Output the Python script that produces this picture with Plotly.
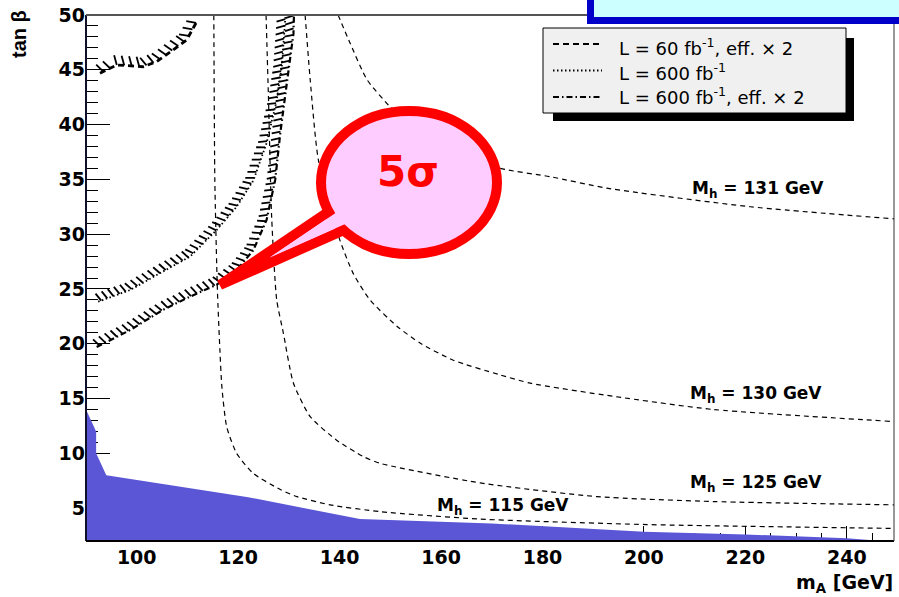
import numpy as np
import plotly.graph_objects as go

# ---------------- data ----------------
X_RANGE = [90.0, 249.3]
Y_RANGE = [2.0, 50.0]

# excluded region (filled, bottom)
excl_mA   = [90, 92, 92, 94, 122, 144, 170, 200, 220, 240, 247, 249.3]
excl_tanb = [14, 12, 10, 8, 6, 4, 3.6, 2.85, 2.6, 2.25, 2.0, 2.0]

# M_h iso-lines (thin dashed)
mh115_mA   = [115.2, 115.4, 115.9, 116.4, 116.8, 117.75, 119.7, 122.9, 128.3, 131.6, 138.1, 148.0, 167.7, 200.5, 249.3]
mh115_tanb = [50.0, 35.0, 25.0, 19.4, 16.0, 12.4, 10.0, 8.2, 6.7, 6.05, 5.3, 4.68, 4.0, 3.5, 3.15]

mh125_mA   = [125.5, 126.0, 126.6, 127.6, 128.9, 130.9, 134.2, 139.4, 144.7, 147.9, 167.7, 190.7, 213.7, 249.3]
mh125_tanb = [50.0, 42.0, 31.6, 24.0, 21.0, 16.4, 13.35, 11.2, 9.7, 9.1, 7.3, 6.05, 5.6, 5.3]

mh130_mA   = [133.2, 134.2, 135.8, 139.8, 142.7, 146.0, 151.3, 155.9, 162.4, 171.7, 177.6, 194.0, 213.7, 249.3]
mh130_tanb = [50.0, 44.1, 36.8, 29.8, 26.4, 24.0, 21.6, 20.05, 18.5, 17.15, 16.4, 15.2, 14.0, 12.9]

mh131_mA   = [139.7, 142.1, 145.4, 150.0, 153.9, 161.8, 171.7, 181.5, 192.7, 221.0, 249.3]
mh131_tanb = [50.0, 47.4, 44.1, 41.6, 40.0, 37.7, 36.0, 35.25, 34.2, 32.5, 31.4]

mh_label_text = ["M<sub>h</sub> = 115 GeV", "M<sub>h</sub> = 125 GeV",
                 "M<sub>h</sub> = 130 GeV", "M<sub>h</sub> = 131 GeV"]

# 5 sigma discovery contours
c60x2_mA    = [92.76, 96.05, 101.24, 103.94, 107.15, 109.85, 111.83]
c60x2_tanb  = [44.68, 45.44, 45.28, 45.74, 46.81, 47.72, 49.39]

c600_mA     = [92.4, 98.7, 105.2, 110.5, 115.8, 119.7, 123.0, 125.6, 127.6, 128.6, 129.25, 129.35]
c600_tanb   = [23.84, 24.9, 26.6, 27.95, 30.4, 32.5, 34.9, 38.3, 42.2, 45.3, 49.4, 50.0]

c600x2_mA   = [92.1, 98.7, 105.2, 110.5, 115.8, 119.7, 123.0, 125.6, 127.3, 128.3, 129.6, 130.9, 131.0]
c600x2_tanb = [19.7, 21.25, 23.1, 24.3, 25.4, 26.7, 28.55, 31.3, 34.95, 39.2, 43.8, 48.3, 50.0]

legend_text = ["L\u00a0=\u00a060 fb<sup>-1</sup>, eff.\u00a0\u00d7\u00a02",
               "L\u00a0=\u00a0600 fb<sup>-1</sup>",
               "L\u00a0=\u00a0600 fb<sup>-1</sup>, eff.\u00a0\u00d7\u00a02"]

# ---------------- geometry helpers ----------------
W, H = 899, 597
PL, PR, PT, PB = 86, 894, 15, 541


def d2p(x, y):
    px = PL + (x - X_RANGE[0]) / (X_RANGE[1] - X_RANGE[0]) * (PR - PL)
    py = PB - (y - Y_RANGE[0]) / (Y_RANGE[1] - Y_RANGE[0]) * (PB - PT)
    return px, py


def p2d(px, py):
    x = X_RANGE[0] + (px - PL) / (PR - PL) * (X_RANGE[1] - X_RANGE[0])
    y = Y_RANGE[0] + (PB - py) / (PB - PT) * (Y_RANGE[1] - Y_RANGE[0])
    return x, y


def xp(px):
    return (px - PL) / (PR - PL)


def yp(py):
    return (PB - py) / (PB - PT)


def hatches(xs, ys, spacing=6.5, length=9.0, tilt=0.35):
    pts = np.array([d2p(x, y) for x, y in zip(xs, ys)])
    seg = np.diff(pts, axis=0)
    sl = np.hypot(seg[:, 0], seg[:, 1])
    cum = np.concatenate([[0], np.cumsum(sl)])
    hx, hy = [], []
    for s in np.arange(spacing / 2, cum[-1], spacing):
        i = int(np.clip(np.searchsorted(cum, s) - 1, 0, len(seg) - 1))
        t = (s - cum[i]) / sl[i]
        p = pts[i] + t * seg[i]
        d = seg[i] / sl[i]
        n = np.array([d[1], -d[0]]) - tilt * d
        n = n / np.linalg.norm(n)
        q = p + n * length
        a = p2d(*p)
        b = p2d(*q)
        hx += [a[0], b[0], None]
        hy += [a[1], b[1], None]
    return hx, hy


fig = go.Figure()

# excluded region
fig.add_trace(go.Scatter(x=excl_mA, y=excl_tanb, mode="lines", fill="tozeroy",
                         fillcolor="rgb(90,86,214)", line=dict(width=0, color="rgb(90,86,214)"),
                         hoverinfo="skip", showlegend=False))

# Mh lines
for xs, ys in [(mh115_mA, mh115_tanb), (mh125_mA, mh125_tanb),
               (mh130_mA, mh130_tanb), (mh131_mA, mh131_tanb)]:
    fig.add_trace(go.Scatter(x=xs, y=ys, mode="lines",
                             line=dict(color="black", width=1.2, dash="5px,4px", shape="spline", smoothing=0.6),
                             hoverinfo="skip", showlegend=False))

# contours
DASH60 = "6px,4px"
DOT600 = "1.5px,2.5px"
DD600 = "6px,3px,1.5px,3px"
contours = [(c60x2_mA, c60x2_tanb, DASH60, 2.8, 7.5, 10.0),
            (c600_mA, c600_tanb, DOT600, 1.8, 6.5, 9.0),
            (c600x2_mA, c600x2_tanb, DD600, 2.2, 6.5, 9.0)]
for xs, ys, dash, lw, sp, hl in contours:
    fig.add_trace(go.Scatter(x=xs, y=ys, mode="lines",
                             line=dict(color="black", width=lw, dash=dash),
                             hoverinfo="skip", showlegend=False))
    hx, hy = hatches(xs, ys, spacing=sp, length=hl)
    fig.add_trace(go.Scatter(x=hx, y=hy, mode="lines", line=dict(color="black", width=1.8),
                             hoverinfo="skip", showlegend=False))

shapes = []
# frame
shapes.append(dict(type="line", xref="paper", yref="paper", x0=0, x1=0, y0=0, y1=1, line=dict(color="#10102a", width=2)))
shapes.append(dict(type="line", xref="paper", yref="paper", x0=0, x1=1, y0=0, y1=0, line=dict(color="black", width=2)))
shapes.append(dict(type="line", xref="paper", yref="paper", x0=0, x1=1, y0=1, y1=1, line=dict(color="#555555", width=2)))
shapes.append(dict(type="line", xref="paper", yref="paper", x0=1, x1=1, y0=0, y1=1, line=dict(color="#333333", width=1)))

# title box (cut off at the top)
shapes.append(dict(type="rect", xref="paper", yref="paper", x0=xp(590.5), x1=xp(920), y0=yp(20.5), y1=yp(-40),
                   fillcolor="#ccffff", line=dict(color="#0000c8", width=7)))

# legend box + shadow
shapes.append(dict(type="rect", xref="paper", yref="paper", x0=xp(553), x1=xp(854), y0=yp(121), y1=yp(38),
                   fillcolor="black", line=dict(width=0)))
shapes.append(dict(type="rect", xref="paper", yref="paper", x0=xp(543), x1=xp(846), y0=yp(113), y1=yp(28),
                   fillcolor="#f0f0f0", line=dict(color="black", width=1)))
for (dash, yy) in [(DASH60, 44), (DOT600, 70.5), (DD600, 97)]:
    shapes.append(dict(type="line", xref="paper", yref="paper", x0=xp(553), x1=xp(602), y0=yp(yy), y1=yp(yy),
                       line=dict(color="black", width=2, dash=dash)))

# balloon
T = np.array([220.0, 285.0])
U = T + (np.array([300.0, 231.0]) - T) * (142 / 80)
Lw = T + (np.array([300.0, 249.5]) - T) * (142 / 80)


def path_of(pts):
    return "M " + " L ".join(f"{xp(p[0]):.5f},{yp(p[1]):.5f}" for p in pts) + " Z"


def inset(pts, d):
    pts = [np.array(p, float) for p in pts]
    c = sum(pts) / len(pts)
    lines = []
    n = len(pts)
    for i in range(n):
        a, b = pts[i], pts[(i + 1) % n]
        t = (b - a) / np.linalg.norm(b - a)
        nn = np.array([-t[1], t[0]])
        if np.dot(c - a, nn) < 0:
            nn = -nn
        lines.append((a + nn * d, t))
    out = []
    for i in range(n):
        (p1, t1), (p2, t2) = lines[i - 1], lines[i]
        A = np.array([t1, -t2]).T
        s = np.linalg.solve(A, p2 - p1)
        out.append(p1 + s[0] * t1)
    return out


shapes.append(dict(type="path", xref="paper", yref="paper", path=path_of([T, U, Lw]),
                   fillcolor="#ffccff", line=dict(color="red", width=10)))
shapes.append(dict(type="circle", xref="paper", yref="paper", x0=xp(321), x1=xp(497), y0=yp(254), y1=yp(111),
                   fillcolor="#ffccff", line=dict(color="red", width=10)))
shapes.append(dict(type="path", xref="paper", yref="paper", path=path_of(inset([T, U, Lw], 5.0)),
                   fillcolor="#ffccff", line=dict(width=0)))

annotations = []
LBL = dict(family="DejaVu Sans", size=17, color="black", weight="bold")
for txt, (cx, cy) in zip(mh_label_text, [(503, 506), (756, 483), (756, 394), (758, 189)]):
    ax_, ay_ = p2d(cx, cy)
    annotations.append(dict(x=ax_, y=ay_, xref="x", yref="y", text=txt, showarrow=False,
                            xanchor="center", yanchor="middle", font=LBL))

for txt, yy in zip(legend_text, [47, 72, 96]):
    annotations.append(dict(x=xp(617), y=yp(yy), xref="paper", yref="paper", text=txt, showarrow=False,
                            xanchor="left", yanchor="middle",
                            font=dict(family="DejaVu Sans", size=18, color="black")))

annotations.append(dict(x=xp(408), y=yp(171), xref="paper", yref="paper", text="5\u03c3", showarrow=False,
                        xanchor="center", yanchor="middle",
                        font=dict(family="DejaVu Sans", size=42, color="red", weight="bold")))

annotations.append(dict(x=xp(895), y=yp(583), xref="paper", yref="paper", text="m<sub>A</sub> [GeV]",
                        showarrow=False, xanchor="right", yanchor="middle",
                        font=dict(family="DejaVu Sans", size=19, color="black", weight="bold")))
annotations.append(dict(x=xp(19), y=yp(34), xref="paper", yref="paper",
                        text="tan \u03b2",
                        showarrow=False, textangle=-90, xanchor="center", yanchor="middle",
                        font=dict(family="Liberation Sans", size=20, color="black", weight="bold")))

TICKF = dict(family="DejaVu Sans", size=19, color="black", weight="bold")
fig.update_layout(
    width=W, height=H,
    margin=dict(l=PL, r=W - PR, t=PT, b=H - PB, pad=0),
    paper_bgcolor="white", plot_bgcolor="white",
    showlegend=False,
    shapes=shapes, annotations=annotations,
    xaxis=dict(range=X_RANGE, tickmode="linear", tick0=0, dtick=20, ticks="inside", ticklen=15,
               tickwidth=1.2, tickcolor="black", showline=False, showgrid=False, zeroline=False,
               layer="below traces", tickfont=TICKF, ticklabelstandoff=3,
               minor=dict(ticks="inside", tick0=0, dtick=5, ticklen=8, tickwidth=1, tickcolor="black", showgrid=False)),
    yaxis=dict(range=Y_RANGE, tickmode="linear", tick0=0, dtick=5, ticks="inside", ticklen=24,
               tickwidth=1.2, tickcolor="black", showline=False, showgrid=False, zeroline=False,
               layer="below traces", tickfont=TICKF,
               minor=dict(ticks="inside", tick0=0, dtick=1, ticklen=12, tickwidth=1, tickcolor="black", showgrid=False)),
)

fig.write_html("out.html")
